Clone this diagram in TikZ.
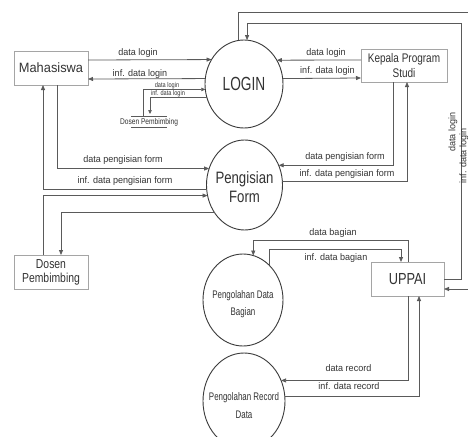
\documentclass[tikz,border=0pt]{standalone}
\usepackage{fontspec}
\setmainfont{Liberation Sans}
\newfontfamily\fa{Liberation Sans}[FakeStretch=0.95]
\newfontfamily\fb{Liberation Sans}[FakeStretch=0.8]
\newfontfamily\fc{Liberation Sans}[FakeStretch=0.72]
\usetikzlibrary{arrows.meta,shapes.geometric}
\definecolor{linegray}{HTML}{5A5A5A}
\definecolor{boxgray}{HTML}{A5A5A5}
\definecolor{circgray}{HTML}{3A3A3A}
\definecolor{txtgray}{HTML}{333333}
\begin{document}
\begin{tikzpicture}[x=1pt,y=-1pt,
  flow/.style={draw=linegray, line width=0.8pt, -{Triangle[length=5pt,width=4pt]}},
  sflow/.style={draw=linegray, line width=0.6pt, -{Triangle[length=4pt,width=3.5pt]}},
  plain/.style={draw=linegray, line width=0.6pt},
  entity/.style={draw=boxgray, line width=0.8pt, rectangle, inner sep=0pt, outer sep=0pt, align=center, text=txtgray},
  proc/.style={draw=circgray, line width=0.9pt, ellipse, inner sep=0pt, outer sep=0pt},
  ptext/.style={align=center, text=txtgray, inner sep=0pt},
  lbl/.style={anchor=base, inner sep=0pt, text=txtgray, font=\fa\fontsize{9.5}{11}\selectfont},
  rlbl/.style={anchor=center, rotate=90, inner sep=0pt, text=txtgray, font=\fa\fontsize{9.5}{11}\selectfont},
  slbl/.style={anchor=base, inner sep=0pt, text=txtgray, font=\fb\fontsize{7}{8}\selectfont},
]
\path[use as bounding box, fill=white] (0,0) rectangle (468,436);

% entities
\node[entity, minimum width=74pt, minimum height=34pt, font=\fa\fontsize{13.5}{15}\selectfont] (mhs) at (51,68) {Mahasiswa};
\node[entity, minimum width=86pt, minimum height=33pt, font=\fb\fontsize{12.5}{15}\selectfont] (kps) at (404,65.5) {Kepala Program\\Studi};
\node[entity, minimum width=73pt, minimum height=34pt, font=\fb\fontsize{16}{18}\selectfont] (uppai) at (407.5,279) {UPPAI};
\node[entity, minimum width=74pt, minimum height=34pt, font=\fb\fontsize{13}{14}\selectfont] (dosen) at (51,272) {Dosen\\Pembimbing};

% processes
\node[proc, minimum width=78pt, minimum height=88pt,
  label={[ptext, font=\fc\fontsize{19}{21}\selectfont]center:LOGIN}] (login) at (244,84) {};
\node[proc, minimum width=76pt, minimum height=90pt,
  label={[ptext, font=\fb\fontsize{16.5}{19}\selectfont, yshift=-2pt]center:Pengisian\\Form}] (pf) at (244.5,185) {};
\node[proc, minimum width=80pt, minimum height=92pt,
  label={[ptext, font=\fc\fontsize{11}{17}\selectfont, yshift=-4pt]center:Pengolahan Data\\Bagian}] (pdb) at (243,300) {};
\node[proc, minimum width=82pt, minimum height=96pt,
  label={[ptext, font=\fc\fontsize{11}{18}\selectfont, yshift=-5pt]center:Pengolahan Record\\Data}] (prd) at (244,401) {};

% data store (small)
\node[anchor=base, inner sep=0pt, text=txtgray, font=\fb\fontsize{8.3}{9}\selectfont] (ds1) at (149,124) {Dosen Pembimbing};
\draw[plain] ([shift={(-18pt,8pt)}]ds1.base) -- ([shift={(18pt,8pt)}]ds1.base);
\draw[plain] ([shift={(-18pt,-3pt)}]ds1.base) -- ([shift={(18pt,-3pt)}]ds1.base);

% Mahasiswa <-> LOGIN
\draw[flow] ([yshift=8pt]mhs.east) -- (login.143.7);
\node[lbl] (l1) at (138,56) {data login};
\draw[flow] (login.172.6) -- ([yshift=-11pt]mhs.east);
\node[lbl] (l2) at (140,76) {inf. data login};

% small store <-> LOGIN
\draw[sflow] ([shift={(-6pt,8pt)}]ds1.base) |- (login.188.8);
\node[slbl] (l3) at (167,87.5) {data login};
\draw[sflow] (login.200.7) -| ([shift={(1pt,10pt)}]ds1.base);
\node[slbl] (l4) at (168,95.5) {inf. data login};

% Kepala <-> LOGIN
\draw[flow] ([yshift=5.5pt]kps.west) -- (login.36.3);
\node[lbl] (l5) at (326,55.5) {data login};
\draw[flow] (login.8.84) -- ([yshift=-12.5pt]kps.west);
\node[lbl] (l6) at (327.5,74) {inf. data login};

% Mahasiswa <-> Pengisian
\draw[flow] ([xshift=6pt]mhs.south) |- (pf.155.75);
\node[lbl] (l7) at (123,162.5) {data pengisian form};
\draw[flow] (pf.186.0) -| ([xshift=-8pt]mhs.south);
\node[lbl] (l8) at (125,183.5) {inf. data pengisian form};

% Dosen <-> Pengisian
\draw[flow] ([xshift=-8pt]dosen.north) |- (pf.196.6);
\draw[flow] (pf.223.3) -| ([xshift=10pt]dosen.north);

% Kepala <-> Pengisian
\draw[flow] ([xshift=-11pt]kps.south) |- (pf.30.4);
\node[lbl] (l9) at (345,159.5) {data pengisian form};
\draw[flow] (pf.6.03) -| ([xshift=3pt]kps.south);
\node[lbl] (l10) at (347,176) {inf. data pengisian form};

% UPPAI <-> Pengolahan Data Bagian
\draw[flow] ([xshift=0.5pt]uppai.north) -- ++(0,-22) -| (pdb.77.35);
\node[lbl] (l11) at (333,235) {data bagian};
\draw[flow] (pdb.53.36) -- ++(0,-16) -| ([xshift=-6.5pt]uppai.north);
\node[lbl] (l12) at (336,260.5) {inf. data bagian};

% UPPAI <-> Pengolahan Record Data
\draw[flow] ([xshift=0.5pt]uppai.south) |- (prd.29.93);
\node[lbl] (l13) at (348.5,371.5) {data record};
\draw[flow] (prd.7.0) -| ([xshift=11.5pt]uppai.south);
\node[lbl] (l14) at (349,389) {inf. data record};

% UPPAI <-> LOGIN (outer loop)
\coordinate (rin) at (461,23);
\coordinate (rout) at (476,12);
\draw[flow] (uppai.east) -| (rin) -| (login.86.1);
\node[rlbl] (l15) at (453,132) {data login};
\draw[flow] (login.97.85) |- (rout) |- ([yshift=-10pt]uppai.east);
\node[rlbl] (l16) at (464,156) {inf. data login};
\end{tikzpicture}
\end{document}
